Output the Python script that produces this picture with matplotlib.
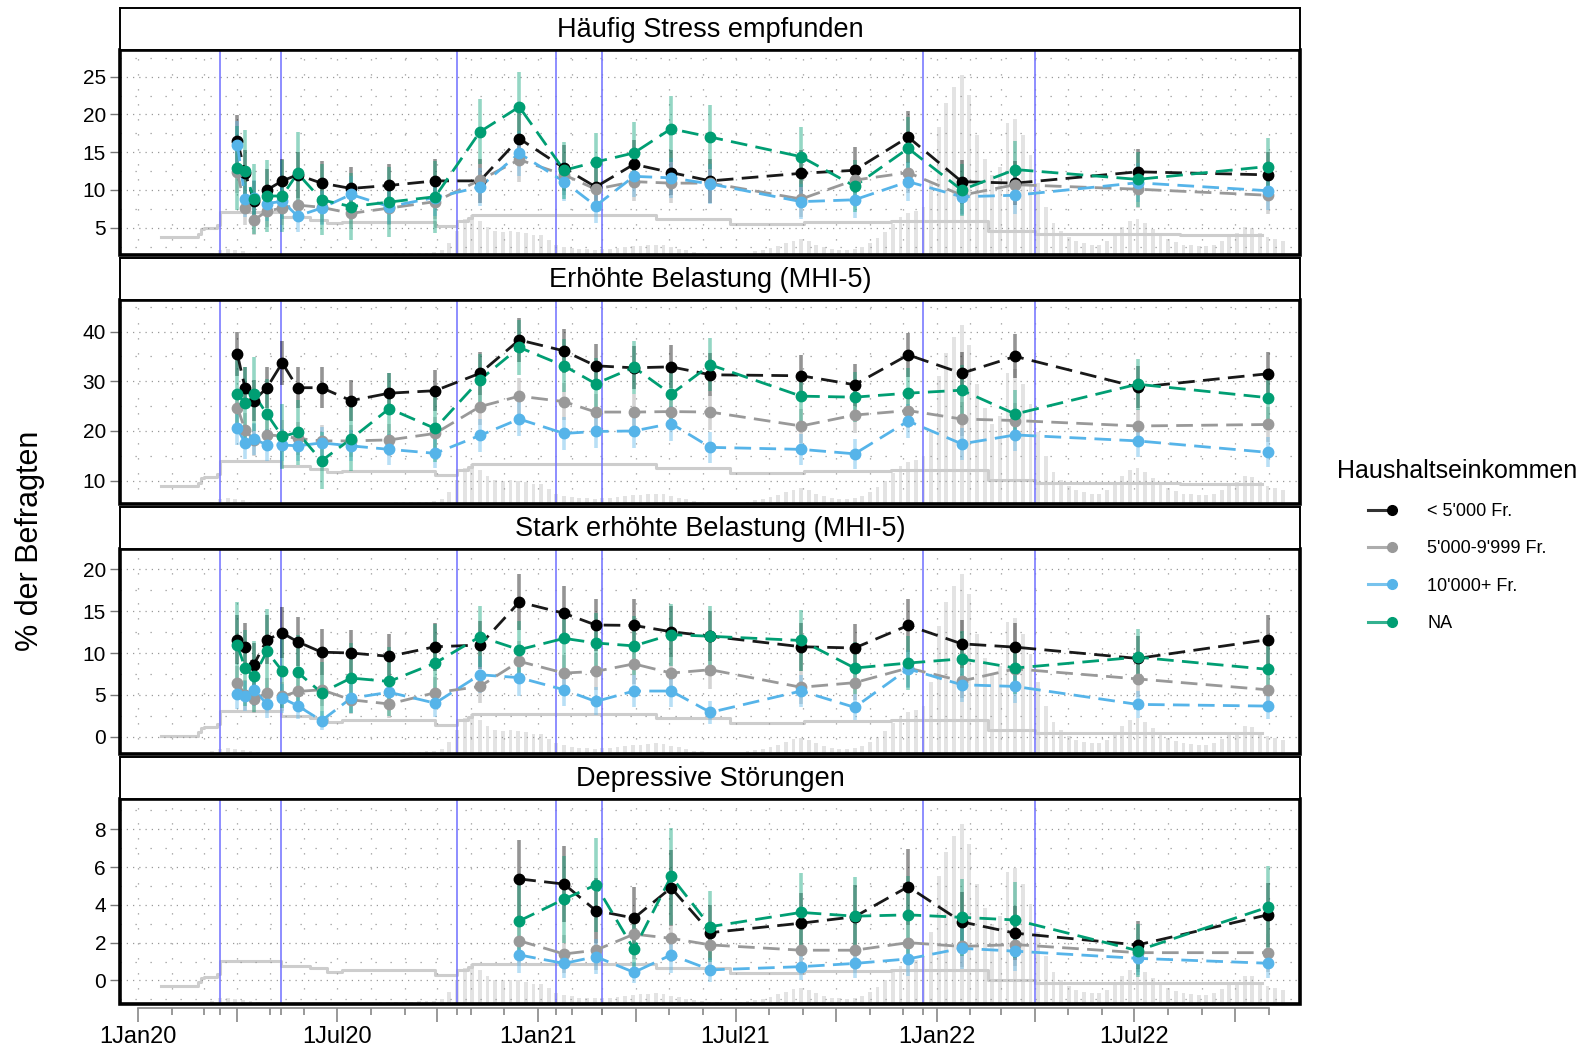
import numpy as np
import pandas as pd
import matplotlib
matplotlib.use("Agg")
import matplotlib.pyplot as plt
import matplotlib.dates as mdates
from matplotlib.lines import Line2D
from matplotlib.legend_handler import HandlerLine2D
from matplotlib.patches import Rectangle

plt.rcParams['font.family'] = ['Liberation Sans', 'DejaVu Sans']

# ---------------- data ----------------
survey_dates = ['2020-04-01', '2020-04-08', '2020-04-16', '2020-04-28', '2020-05-12', '2020-05-26',
                '2020-06-17', '2020-07-14', '2020-08-18', '2020-09-29', '2020-11-09', '2020-12-15',
                '2021-01-25', '2021-02-23', '2021-03-30', '2021-05-03', '2021-06-08', '2021-08-30',
                '2021-10-18', '2021-12-06', '2022-01-24', '2022-03-14', '2022-07-04', '2022-10-31']

groups = ["< 5'000 Fr.", "5'000-9'999 Fr.", "10'000+ Fr.", "NA"]
group_colors = ['#000000', '#999999', '#56B4E9', '#009E73']

panel_titles = ['Häufig Stress empfunden', 'Erhöhte Belastung (MHI-5)',
                'Stark erhöhte Belastung (MHI-5)', 'Depressive Störungen']

nan = np.nan
stress_low = [16.5, 12.3, 8.6, 10.0, 11.2, 12.0, 10.9, 10.2, 10.6, 11.2, 11.2, 16.8,
              12.9, 10.4, 13.4, 12.3, 11.2, 12.2, 12.6, 17.0, 11.1, 10.9, 12.4, 12.0]
stress_mid = [12.4, 7.6, 6.0, 7.2, 7.6, 8.0, 7.7, 6.9, 7.6, 8.45, 11.3, 14.0,
              12.0, 10.1, 11.1, 10.9, 10.9, 8.8, 11.3, 12.3, 9.3, 10.7, 10.1, 9.3]
stress_high = [16.0, 8.75, 8.9, 8.2, 8.5, 6.55, 7.6, 9.4, 7.8, 9.0, 10.4, 14.85,
               11.1, 7.9, 11.8, 11.6, 10.8, 8.45, 8.7, 11.1, 9.1, 9.3, 10.95, 9.9]
stress_na = [12.9, 12.5, 8.8, 9.2, 9.2, 12.2, 8.7, 7.8, 8.4, 9.1, 17.7, 21.0,
             12.6, 13.7, 14.9, 18.1, 17.0, 14.4, 10.5, 15.5, 10.0, 12.7, 11.4, 13.1]

mhi_low = [35.4, 28.6, 26.1, 28.7, 33.7, 28.7, 28.7, 26.1, 27.6, 28.1, 31.6, 38.3,
           36.1, 33.1, 32.7, 32.9, 31.3, 31.1, 29.3, 35.3, 31.6, 35.0, 28.8, 31.5]
mhi_mid = [24.7, 20.2, 18.2, 19.2, 19.0, 18.5, 18.0, 18.0, 18.2, 19.5, 24.9, 27.0,
           25.9, 23.8, 23.8, 23.9, 23.8, 21.0, 23.2, 24.1, 22.4, 22.1, 21.0, 21.3]
mhi_high = [20.5, 17.6, 18.4, 17.2, 17.2, 17.0, 17.6, 17.0, 16.3, 15.5, 19.1, 22.4,
            19.5, 19.9, 20.0, 21.5, 16.7, 16.3, 15.4, 22.0, 17.4, 19.2, 18.0, 15.7]
mhi_na = [27.4, 25.6, 27.4, 23.4, 18.9, 19.7, 14.0, 18.4, 24.5, 20.5, 30.3, 36.8,
          33.1, 29.5, 32.8, 27.4, 33.3, 27.0, 26.8, 27.6, 28.2, 23.4, 29.4, 26.7]

severe_low = [11.6, 10.75, 8.6, 11.6, 12.4, 11.35, 10.1, 10.0, 9.6, 10.75, 10.95, 16.1,
              14.75, 13.35, 13.3, 12.55, 12.0, 10.75, 10.6, 13.3, 11.1, 10.7, 9.35, 11.6]
severe_mid = [6.4, 5.0, 4.5, 5.2, 4.8, 5.4, 5.6, 4.4, 3.9, 5.25, 6.0, 9.0,
              7.6, 7.8, 8.7, 7.6, 8.0, 5.9, 6.45, 8.2, 6.65, 8.1, 6.9, 5.6]
severe_high = [5.1, 4.9, 5.6, 3.9, 4.6, 3.7, 1.9, 4.6, 5.3, 4.0, 7.4, 7.05,
               5.6, 4.2, 5.45, 5.45, 2.9, 5.45, 3.5, 8.1, 6.2, 6.0, 3.85, 3.65]
severe_na = [10.9, 8.2, 7.2, 10.2, 7.85, 7.7, 5.25, 7.0, 6.6, 8.8, 11.95, 10.4,
             11.75, 11.2, 10.85, 12.2, 12.0, 11.5, 8.2, 8.8, 9.3, 8.2, 9.5, 8.05]

dep_low = [nan] * 11 + [5.37, 5.1, 3.7, 3.3, 4.9, 2.53, 3.03, 3.37, 4.96, 3.1, 2.5, 1.88, 3.47]
dep_mid = [nan] * 11 + [2.1, 1.4, 1.6, 2.45, 2.23, 1.88, 1.6, 1.6, 2.0, 1.8, 1.9, 1.47, 1.47]
dep_high = [nan] * 11 + [1.35, 0.9, 1.26, 0.43, 1.35, 0.56, 0.73, 0.9, 1.14, 1.7, 1.55, 1.17, 0.91]
dep_na = [nan] * 11 + [3.15, 4.3, 5.05, 1.65, 5.5, 2.85, 3.6, 3.4, 3.47, 3.34, 3.2, 1.58, 3.87]

# approximate effective sample sizes per group (for 95% CIs)
n_low = [450] * 24
n_mid = [550] * 24
n_high = [550] * 24
n_na = [140] * 10 + [300] * 14

panel_values = [
    [stress_low, stress_mid, stress_high, stress_na],
    [mhi_low, mhi_mid, mhi_high, mhi_na],
    [severe_low, severe_mid, severe_high, severe_na],
    [dep_low, dep_mid, dep_high, dep_na],
]
group_n = [n_low, n_mid, n_high, n_na]

panel_yticks = [[5, 10, 15, 20, 25], [10, 20, 30, 40], [0, 5, 10, 15, 20], [0, 2, 4, 6, 8]]
panel_ylims = [(1.39, 28.47), (5.33, 46.28), (-2.06, 22.42), (-1.23, 9.6)]

event_dates = ['2020-03-16', '2020-05-11', '2020-10-19', '2021-01-18',
               '2021-03-01', '2021-12-20', '2022-04-01']

# stringency-like step line (percent of panel height)
strin_dates = ['2020-01-22', '2020-02-25', '2020-02-28', '2020-03-01', '2020-03-13', '2020-03-16',
               '2020-05-11', '2020-06-06', '2020-06-22', '2020-07-06', '2020-09-29', '2020-10-19',
               '2020-10-29', '2020-11-02', '2021-04-19', '2021-06-26', '2021-09-02', '2021-11-20',
               '2022-02-17', '2022-04-01', '2022-08-12', '2022-10-26']
strin_level = [8.8, 10.5, 12.5, 13.2, 14.5, 21.0, 18.6, 17.3, 15.7, 16.3, 14.1, 16.5,
               18.0, 19.5, 17.4, 15.2, 16.0, 16.5, 11.6, 10.3, 10.0, 10.0]

# weekly confirmed cases (thousands, weekly peak) from 2020-02-24
cases_start = '2020-02-24'
cases_k = [
    0.02,
    0.2, 0.6, 1.3, 1.4, 1.2,
    0.9, 0.6, 0.4, 0.25,
    0.15, 0.08, 0.06, 0.05,
    0.05, 0.05, 0.05, 0.08, 0.12,
    0.15, 0.15, 0.2, 0.2,
    0.2, 0.3, 0.35, 0.4, 0.45,
    0.5, 0.55, 0.6, 0.7,
    1.2, 3.0, 6.0, 9.0,
    10.0, 8.5, 7.0, 6.0, 5.8,
    6.0, 5.8, 5.5, 5.0,
    # 2021
    5.0, 3.8, 2.6, 2.1,
    1.8, 1.5, 1.4, 1.3,
    1.4, 1.5, 1.7, 2.0, 2.2,
    2.3, 2.5, 2.6, 2.4,
    2.0, 1.6, 1.2, 0.8, 0.6,
    0.4, 0.3, 0.2, 0.2,
    0.3, 0.6, 0.9, 1.2,
    1.7, 2.3, 3.0, 3.6, 4.0,
    3.4, 2.6, 2.0, 1.5,
    1.3, 1.2, 1.4, 2.0,
    3.0, 4.2, 5.8, 7.8, 9.5,
    10.5, 11.0, 12.0, 18.0,
    # 2022
    32, 38, 42, 45, 40,
    30, 24, 20, 22,
    33, 34, 30, 25,
    18, 12, 8, 6,
    4.5, 3.5, 3.0, 2.6, 2.6,
    3.5, 5.0, 7.0, 8.5,
    9.0, 8.0, 6.5, 5.0,
    4.0, 3.2, 2.6, 2.4, 2.2,
    2.2, 2.6, 3.6, 5.0,
    5.5, 7.0, 6.8, 5.5, 4.5,
    4.0, 3.5,
]

# ---------------- figure ----------------
W, H = 1580, 1055
fig = plt.figure(figsize=(W / 100, H / 100), dpi=100)

x_left, x_right = 120, 1300
panel_px = [(50.4, 255.0), (300.3, 503.9), (549.2, 753.8), (799.0, 1003.7)]
strip_px = [(8.0, 50.4), (258.0, 300.3), (506.9, 549.2), (756.8, 799.0)]

xlim = (pd.Timestamp('2019-12-15 12:00'), pd.Timestamp('2022-11-29 17:00'))
sdates = pd.to_datetime(survey_dates)
edates = pd.to_datetime(event_dates)
st_dates = pd.to_datetime(strin_dates)
case_dates = pd.date_range(cases_start, periods=len(cases_k), freq='7D')
case_frac = np.array(cases_k) / 45.0 * 0.88
months = pd.date_range('2020-01-01', '2022-11-01', freq='MS')


def fx(px):
    return px / W


def fy(py):
    return 1 - py / H


axes = []
for i in range(4):
    top, bot = panel_px[i]
    ax = fig.add_axes([fx(x_left), fy(bot), fx(x_right - x_left), (bot - top) / H])
    axes.append(ax)
    ax.set_xlim(*xlim)
    ax.set_ylim(*panel_ylims[i])
    for s in ax.spines.values():
        s.set_visible(False)
    ax.add_patch(Rectangle((0, 0), 1, 1, transform=ax.transAxes, fill=False,
                           lw=2.6, ec='black', zorder=20, clip_on=False))

    trans = ax.get_xaxis_transform()
    # case bars
    ax.bar(case_dates, case_frac, width=3.5, bottom=0, transform=trans,
           color='#e3e3e3', lw=0, zorder=0.5)
    # stringency step line
    ax.step(st_dates, np.array(strin_level) / 100.0, where='post', transform=trans,
            color='#cdcdcd', lw=2.2, zorder=0.6)
    # grid
    for yv in panel_yticks[i]:
        ax.axhline(yv, color='#999999', lw=0.9, ls=(0, (1, 4)), zorder=0.8)
    step = panel_yticks[i][1] - panel_yticks[i][0]
    for yv in np.arange(panel_yticks[i][0] - step / 2, panel_ylims[i][1], step):
        if panel_ylims[i][0] < yv < panel_ylims[i][1]:
            ax.axhline(yv, color='#999999', lw=0.9, ls=(0, (1, 11)), zorder=0.8)
    for m in months:
        ax.axvline(m, color='#999999', lw=0.9, ls=(0, (1, 11)), zorder=0.8)
    # event lines
    for d in edates:
        ax.axvline(d, color='#7070ff', lw=1.3, alpha=0.85, zorder=1)

    # series
    for g in range(4):
        vals = np.array(panel_values[i][g], dtype=float)
        n = np.array(group_n[g], dtype=float)
        p = vals / 100.0
        half = 1.96 * np.sqrt(p * (1 - p) / n) * 100
        ok = ~np.isnan(vals)
        ax.vlines(sdates[ok], (vals - half)[ok], (vals + half)[ok], colors=group_colors[g],
                  alpha=0.42, lw=2.6, zorder=2 + g * 0.01)
    for g in range(4):
        vals = np.array(panel_values[i][g], dtype=float)
        ax.plot(sdates, vals, color=group_colors[g], lw=2.0, ls=(0, (6, 3)),
                alpha=0.9 if g == 0 else 1.0, zorder=3 + g * 0.01)
    for g in range(4):
        vals = np.array(panel_values[i][g], dtype=float)
        ax.plot(sdates, vals, ls='none', marker='o', ms=7.5, color=group_colors[g],
                mec=group_colors[g], zorder=4 + g * 0.01)

    ax.set_yticks(panel_yticks[i])
    ax.tick_params(axis='y', direction='out', length=7, width=1, color='#777777',
                   labelsize=15, pad=3)
    ax.set_xticks([])

    # strip
    stop, sbot = strip_px[i]
    sax = fig.add_axes([fx(x_left), fy(sbot), fx(x_right - x_left), (sbot - stop) / H])
    sax.set_xticks([])
    sax.set_yticks([])
    for s in sax.spines.values():
        s.set_linewidth(1.4)
    sax.text(0.5, 0.47, panel_titles[i], ha='center', va='center', fontsize=19.5,
             transform=sax.transAxes)

# bottom axis
ax4 = axes[3]
ax4.spines['bottom'].set_visible(True)
ax4.spines['bottom'].set_position(('outward', 3))
ax4.spines['bottom'].set_color('#888888')
ax4.spines['bottom'].set_linewidth(1.2)
ax4.spines['bottom'].set_bounds(mdates.date2num(pd.Timestamp('2020-01-01')),
                                mdates.date2num(pd.Timestamp('2022-11-01')))
quarters = pd.date_range('2020-01-01', '2022-10-01', freq='QS')
ax4.set_xticks(quarters)
ax4.set_xticklabels([('1' + d.strftime('%b%y')) if d.month in (1, 7) else '' for d in quarters])
minor = [m for m in months if m not in set(quarters)] + list(edates)
ax4.set_xticks(minor, minor=True)
ax4.tick_params(axis='x', which='major', direction='out', length=10, width=1.2,
                color='#888888', labelsize=17, pad=3)
ax4.tick_params(axis='x', which='minor', direction='out', length=5, width=1.2,
                color='#888888')

fig.text(fx(30), fy(541), '% der Befragten', rotation=90, ha='center', va='center', fontsize=22)


# legend
class KeyHandler(HandlerLine2D):
    def create_artists(self, legend, orig_handle, xdescent, ydescent, width, height,
                       fontsize, trans):
        y = height / 2.0 - ydescent
        x0 = -xdescent
        line = Line2D([x0, x0 + width * 0.75], [y, y], color=orig_handle.get_color(),
                      lw=2.2, alpha=0.8)
        mk = Line2D([x0 + width * 0.75], [y], marker='o', ms=7, color=orig_handle.get_color(),
                    ls='none')
        line.set_transform(trans)
        mk.set_transform(trans)
        return [line, mk]


handles = [Line2D([0], [0], color=c, marker='o') for c in group_colors]
fig.legend(handles, groups, handler_map={Line2D: KeyHandler()}, title='Haushaltseinkommen',
           loc='upper left', bbox_to_anchor=(fx(1337), fy(459)), frameon=False,
           fontsize=13, title_fontsize=18, handlelength=1.8, labelspacing=1.12,
           handletextpad=1.5, borderaxespad=0, borderpad=0)

fig.savefig('out.png', dpi=100)
